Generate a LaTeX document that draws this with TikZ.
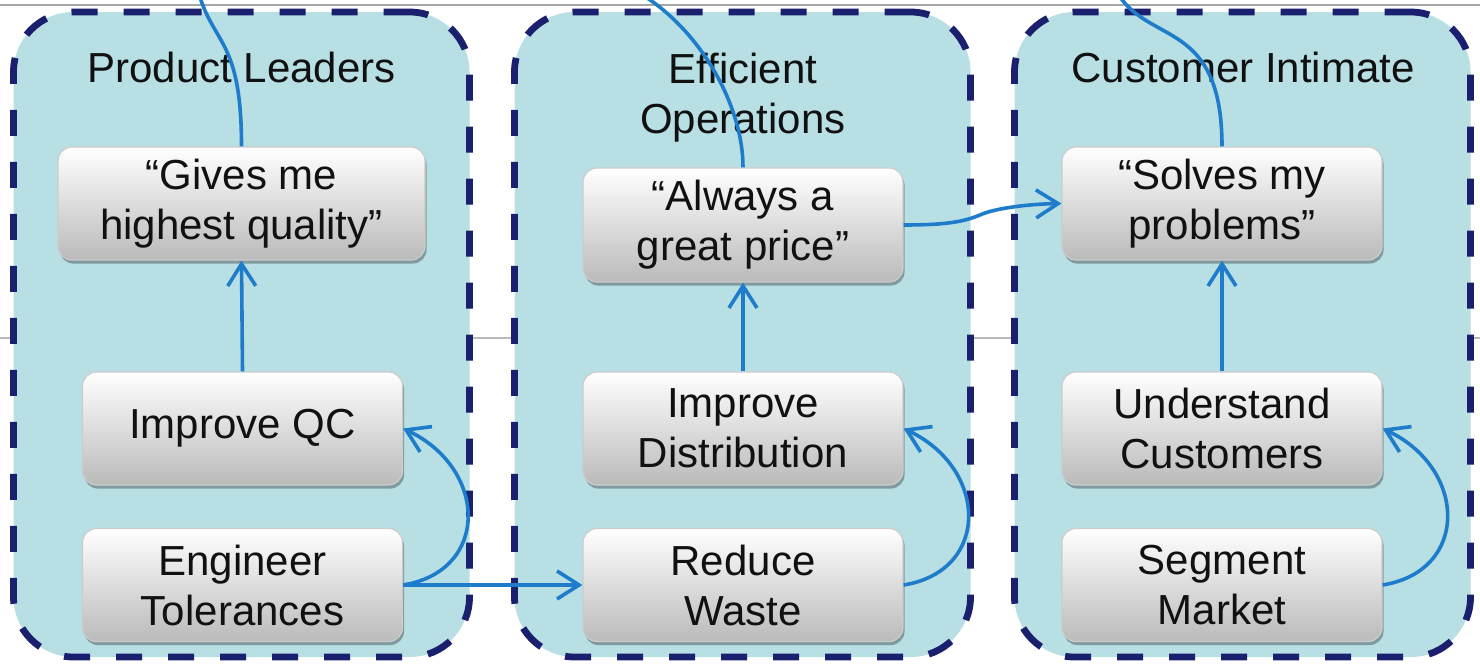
\documentclass[tikz,border=0pt]{standalone}
\usepackage{fontspec}
\setmainfont{Liberation Sans}
\usetikzlibrary{arrows.meta,shadows}
\definecolor{cfill}{HTML}{B7DFE4}
\definecolor{navy}{HTML}{1B206E}
\definecolor{arrowblue}{HTML}{1F7CCB}
\definecolor{txt}{HTML}{111111}
\begin{document}
\begin{tikzpicture}[x=0.5pt,y=-0.5pt,
  lane/.style={draw=navy, fill=cfill, line width=3.4pt, dash pattern=on 13pt off 13pt,
    rounded corners=30pt, minimum width=228pt, minimum height=322.5pt, inner sep=0pt},
  ttl/.style={font=\fontsize{21}{25}\selectfont, text=txt, align=center, inner sep=0pt},
  card/.style={rounded corners=7pt, draw=white!80!black, line width=0.6pt,
    top color=white, middle color=white!95!black, bottom color=black!27,
    minimum width=160pt, minimum height=56.5pt, inner sep=0pt, align=center,
    font=\fontsize{21}{25}\selectfont, text=txt,
    drop shadow={shadow xshift=0.8pt, shadow yshift=-1.8pt, opacity=0.3, fill=black}},
  conn/.style={draw=arrowblue, line width=1.8pt},
  arr/.style={conn, -{Straight Barb[length=11pt,width=14pt]}}]
\useasboundingbox (0,0) rectangle (1480,664);
\fill[white] (0,0) rectangle (1480,664);
\draw[gray!70, line width=1.2pt] (0,5) -- (1480,5);
\draw[gray!55, line width=0.8pt] (0,338) -- (1480,338);

% lanes
\node[lane] (laneL) at (241.5,334.5) {};
\node[lane] (laneM) at (742.5,334.5) {};
\node[lane] (laneR) at (1242.5,334.5) {};

% titles
\node[ttl, anchor=base] (pl) at (241.5,83) {Product Leaders};
\node[ttl] (eo) at (743,98) {Efficient\\Operations};
\node[ttl, anchor=base] (ci) at (1243,83) {Customer Intimate};

% cards
\node[card, minimum width=183.5pt] (q1) at (241.5,203.5) {“Gives me\\highest quality”};
\node[card, minimum height=57pt] (q2) at (743,225) {“Always a\\great price”};
\node[card] (q3) at (1222,203.5) {“Solves my\\problems”};

\node[card] (a1) at (242.5,428.5) {Improve QC};
\node[card] (a2) at (743,428.5) {Improve\\Distribution};
\node[card] (a3) at (1222,428.5) {Understand\\Customers};

\node[card] (b1) at (242.5,585) {Engineer\\Tolerances};
\node[card] (b2) at (743,585) {Reduce\\Waste};
\node[card] (b3) at (1222,585) {Segment\\Market};

% free ends at the top
\coordinate (t1) at (199,-6);
\coordinate (t2) at (641,-6);
\coordinate (t3) at (1118,-6);

% connectors
\draw[conn] (q1.north) .. controls (241.5,40) and (214,45) .. (t1);
\draw[conn] (q2.north) .. controls (743,105) and (700,30) .. (t2);
\draw[conn] (q3.north) .. controls (1222,20) and (1150,45) .. (t3);

\draw[arr] (a1.north) -- (q1.south);
\draw[arr] (a2.north) -- (q2.south);
\draw[arr] (a3.north) -- (q3.south);

\draw[arr] (b1.east) -- (b2.west);
\draw[arr] (b1.east) .. controls +(87,-14) and +(85,40) .. (a1.east);
\draw[arr] (b2.east) .. controls +(87,-14) and +(85,40) .. (a2.east);
\draw[arr] (b3.east) .. controls +(87,-14) and +(85,40) .. (a3.east);

\draw[arr] (q2.east) .. controls (950,225) and (965,221) .. (980,215)
  .. controls (995,208) and (1030,204) .. (q3.west);
\end{tikzpicture}
\end{document}
